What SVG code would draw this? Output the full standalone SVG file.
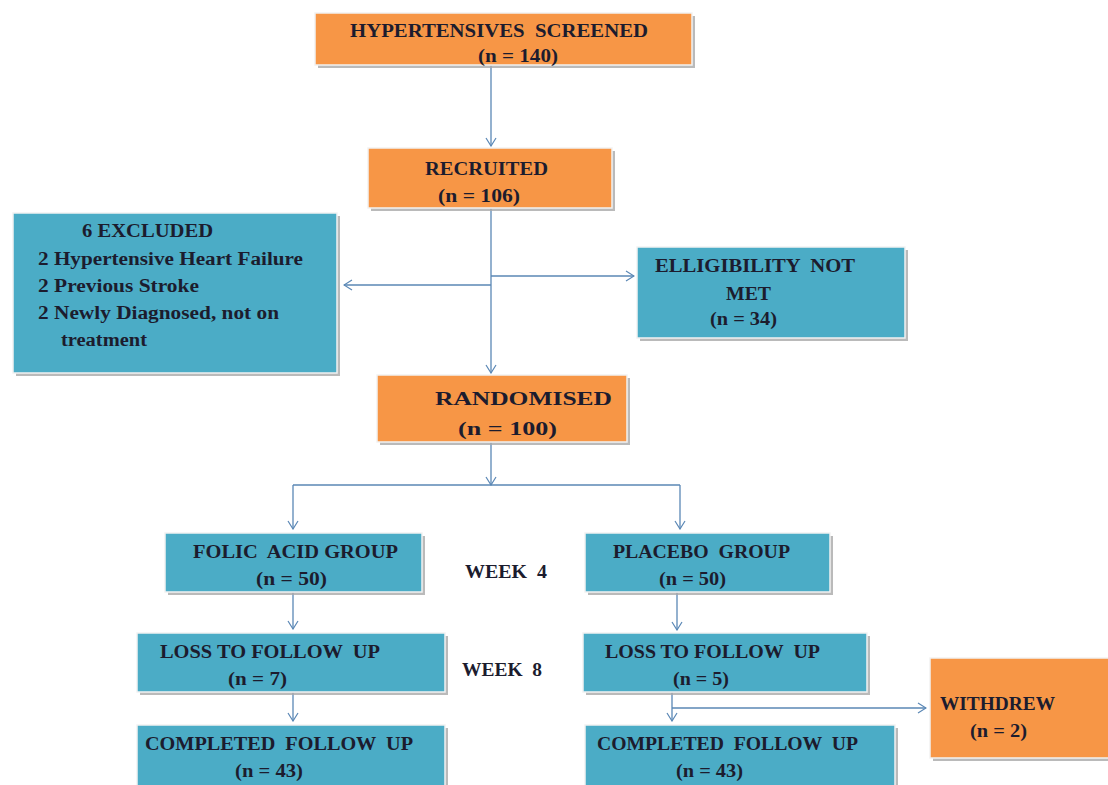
<svg xmlns="http://www.w3.org/2000/svg" width="1108" height="785" viewBox="0 0 1108 785" xml:space="preserve">
<defs>
<style>
.o{fill:#F79646;stroke:#F2F2F2;stroke-width:1.5}
.b{fill:#4BACC6;stroke:#F2F2F2;stroke-width:1.5}
.sh{fill:#A9A9A9;opacity:0.8}
text{font-family:"Liberation Serif","Times New Roman",serif;font-weight:bold;font-size:18px;fill:#1C1C2E;white-space:pre}
.c{fill:none;stroke:#5A87B5;stroke-width:1.3}
</style>
<marker id="ah" markerWidth="10" markerHeight="12" refX="9" refY="6" orient="auto" markerUnits="userSpaceOnUse">
<path d="M1,1 L9,6 L1,11" fill="none" stroke="#5A87B5" stroke-width="1.2"/>
</marker>
</defs>
<rect width="1108" height="785" fill="#FFFFFF"/>

<g id="connectors">
<path class="c" d="M491,65 V146" marker-end="url(#ah)"/>
<path class="c" d="M491,208 V373" marker-end="url(#ah)"/>
<path class="c" d="M491,285 H344" marker-end="url(#ah)"/>
<path class="c" d="M491,276 H634" marker-end="url(#ah)"/>
<path class="c" d="M491,442 V485" marker-end="url(#ah)"/>
<path class="c" d="M293,485 H680"/>
<path class="c" d="M293,485 V529" marker-end="url(#ah)"/>
<path class="c" d="M680,485 V529" marker-end="url(#ah)"/>
<path class="c" d="M293,592 V629" marker-end="url(#ah)"/>
<path class="c" d="M293,692 V721" marker-end="url(#ah)"/>
<path class="c" d="M677,592 V630" marker-end="url(#ah)"/>
<path class="c" d="M672,692 V721" marker-end="url(#ah)"/>
<path class="c" d="M672,708 H926" marker-end="url(#ah)"/>
</g>

<g id="screened">
<rect class="sh" x="318" y="16" width="377" height="52"/>
<rect class="o" x="315" y="13" width="377" height="52"/>
<text x="350" y="37" font-size="19" textLength="298" lengthAdjust="spacingAndGlyphs">HYPERTENSIVES  SCREENED</text>
<text x="478" y="62" font-size="19" textLength="80" lengthAdjust="spacingAndGlyphs">(n = 140)</text>
</g>

<g id="recruited">
<rect class="sh" x="371" y="151" width="244" height="60"/>
<rect class="o" x="368" y="148" width="244" height="60"/>
<text x="425" y="175" textLength="123" lengthAdjust="spacingAndGlyphs">RECRUITED</text>
<text x="438" y="202" textLength="82" lengthAdjust="spacingAndGlyphs">(n = 106)</text>
</g>

<g id="excluded">
<rect class="sh" x="16" y="216" width="324" height="160"/>
<rect class="b" x="13" y="213" width="324" height="160"/>
<text x="82" y="237" textLength="131" lengthAdjust="spacingAndGlyphs">6 EXCLUDED</text>
<text x="38" y="265" textLength="265" lengthAdjust="spacingAndGlyphs">2 Hypertensive Heart Failure</text>
<text x="38" y="292" textLength="161" lengthAdjust="spacingAndGlyphs">2 Previous Stroke</text>
<text x="38" y="319" textLength="241" lengthAdjust="spacingAndGlyphs">2 Newly Diagnosed, not on</text>
<text x="61" y="346" textLength="86" lengthAdjust="spacingAndGlyphs">treatment</text>
</g>

<g id="eligibility">
<rect class="sh" x="640" y="250" width="268" height="91"/>
<rect class="b" x="637" y="247" width="268" height="91"/>
<text x="655" y="272" textLength="200" lengthAdjust="spacingAndGlyphs">ELLIGIBILITY  NOT</text>
<text x="726" y="300" textLength="45" lengthAdjust="spacingAndGlyphs">MET</text>
<text x="710" y="325" textLength="67" lengthAdjust="spacingAndGlyphs">(n = 34)</text>
</g>

<g id="randomised">
<rect class="sh" x="380" y="378" width="250" height="67"/>
<rect class="o" x="377" y="375" width="250" height="67"/>
<text x="435" y="405" font-size="19" textLength="177" lengthAdjust="spacingAndGlyphs">RANDOMISED</text>
<text x="458" y="435" font-size="19" textLength="99" lengthAdjust="spacingAndGlyphs">(n = 100)</text>
</g>

<g id="folic">
<rect class="sh" x="168" y="536" width="257" height="59"/>
<rect class="b" x="165" y="533" width="257" height="59"/>
<text x="193" y="558" textLength="205" lengthAdjust="spacingAndGlyphs">FOLIC  ACID GROUP</text>
<text x="256" y="585" textLength="71" lengthAdjust="spacingAndGlyphs">(n = 50)</text>
</g>

<g id="week4">
<text x="465" y="578" textLength="82" lengthAdjust="spacingAndGlyphs">WEEK  4</text>
</g>

<g id="week8">
<text x="462" y="676" textLength="80" lengthAdjust="spacingAndGlyphs">WEEK  8</text>
</g>

<g id="loss-left">
<rect class="sh" x="140" y="636" width="308" height="59"/>
<rect class="b" x="137" y="633" width="308" height="59"/>
<text x="160" y="658" textLength="220" lengthAdjust="spacingAndGlyphs">LOSS TO FOLLOW  UP</text>
<text x="228" y="685" textLength="59" lengthAdjust="spacingAndGlyphs">(n = 7)</text>
</g>

<g id="completed-left">
<rect class="sh" x="140" y="728" width="308" height="60"/>
<rect class="b" x="137" y="725" width="308" height="62"/>
<text x="145" y="750" textLength="268" lengthAdjust="spacingAndGlyphs">COMPLETED  FOLLOW  UP</text>
<text x="235" y="777" textLength="68" lengthAdjust="spacingAndGlyphs">(n = 43)</text>
</g>

<g id="placebo">
<rect class="sh" x="588" y="536" width="245" height="59"/>
<rect class="b" x="585" y="533" width="245" height="59"/>
<text x="613" y="558" textLength="177" lengthAdjust="spacingAndGlyphs">PLACEBO  GROUP</text>
<text x="659" y="585" textLength="67" lengthAdjust="spacingAndGlyphs">(n = 50)</text>
</g>

<g id="loss-right">
<rect class="sh" x="586" y="636" width="284" height="59"/>
<rect class="b" x="583" y="633" width="284" height="59"/>
<text x="605" y="658" textLength="215" lengthAdjust="spacingAndGlyphs">LOSS TO FOLLOW  UP</text>
<text x="673" y="685" textLength="56" lengthAdjust="spacingAndGlyphs">(n = 5)</text>
</g>

<g id="completed-right">
<rect class="sh" x="588" y="728" width="310" height="60"/>
<rect class="b" x="585" y="725" width="310" height="62"/>
<text x="597" y="750" textLength="261" lengthAdjust="spacingAndGlyphs">COMPLETED  FOLLOW  UP</text>
<text x="676" y="777" textLength="67" lengthAdjust="spacingAndGlyphs">(n = 43)</text>
</g>

<g id="withdrew">
<rect class="sh" x="933" y="661" width="178" height="100"/>
<rect class="o" x="930" y="658" width="180" height="100"/>
<text x="940" y="710" textLength="115" lengthAdjust="spacingAndGlyphs">WITHDREW</text>
<text x="970" y="737" textLength="57" lengthAdjust="spacingAndGlyphs">(n = 2)</text>
</g>
</svg>
